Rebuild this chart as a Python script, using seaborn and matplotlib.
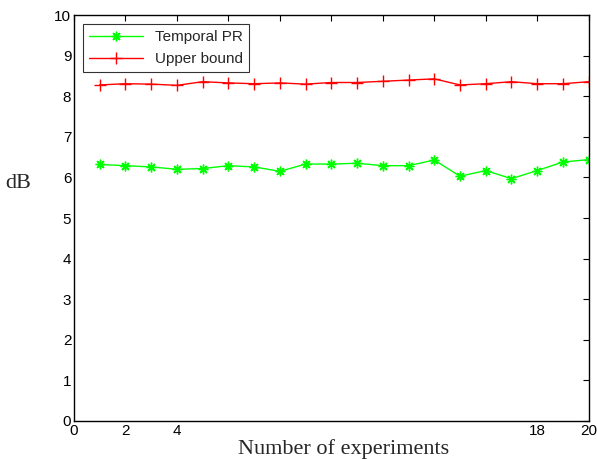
import pandas as pd
import matplotlib
matplotlib.use("Agg")
import matplotlib.pyplot as plt
import seaborn as sns

# datos
experiments = list(range(1, 21))
temporal_pr = [6.32, 6.29, 6.26, 6.20, 6.22, 6.29, 6.26, 6.15, 6.33, 6.33,
               6.35, 6.29, 6.29, 6.43, 6.03, 6.17, 5.97, 6.17, 6.38, 6.44]
upper_bound = [8.28, 8.31, 8.30, 8.27, 8.36, 8.33, 8.31, 8.33, 8.30, 8.34,
               8.34, 8.37, 8.40, 8.43, 8.28, 8.31, 8.36, 8.31, 8.31, 8.36]
xtick_labels = ['0', '2', '4', '', '', '', '', '', '', '18', '20']

sns.set_style("white")
plt.rcParams['font.family'] = ['Liberation Sans', 'DejaVu Sans']

fig = plt.figure(figsize=(5.97, 4.59), dpi=100)
ax = fig.add_axes([0.124, 0.083, 0.862, 0.884])

# asterisco tipo MATLAB (8 brazos)
sns.lineplot(x=experiments, y=temporal_pr, color='#00ff00', marker=(8, 2, 0),
             markersize=7, markeredgewidth=1, markeredgecolor='#00ff00',
             linewidth=1, label='Temporal PR', ax=ax)
sns.lineplot(x=experiments, y=upper_bound, color='#ff0000', marker='+',
             markersize=8, markeredgewidth=1, markeredgecolor='#ff0000',
             linewidth=1, label='Upper bound', ax=ax)

ax.set_xlim(0, 20)
ax.set_ylim(0, 10)
ax.set_xticks(range(0, 21, 2))
ax.set_xticklabels(xtick_labels)
ax.set_yticks(range(0, 11))
ax.tick_params(direction='in', top=True, right=True, length=4, width=0.8,
               labelsize=11, pad=2, colors='black')
for s in ax.spines.values():
    s.set_linewidth(1.0)
    s.set_color('black')

ax.set_xlabel('Number of experiments', family='Liberation Serif', fontsize=16)
ax.set_ylabel('dB', family='Liberation Serif', fontsize=16, rotation=0,
              ha='center', va='center')
ax.xaxis.set_label_coords(0.524, -0.045)
ax.yaxis.set_label_coords(-0.108, 0.586)

leg = ax.legend(loc='upper left', fontsize=11, frameon=True, fancybox=False,
                edgecolor='black', borderaxespad=0.6, handlelength=3.5)
leg.get_frame().set_linewidth(0.8)

fig.savefig('out.png', dpi=100)
